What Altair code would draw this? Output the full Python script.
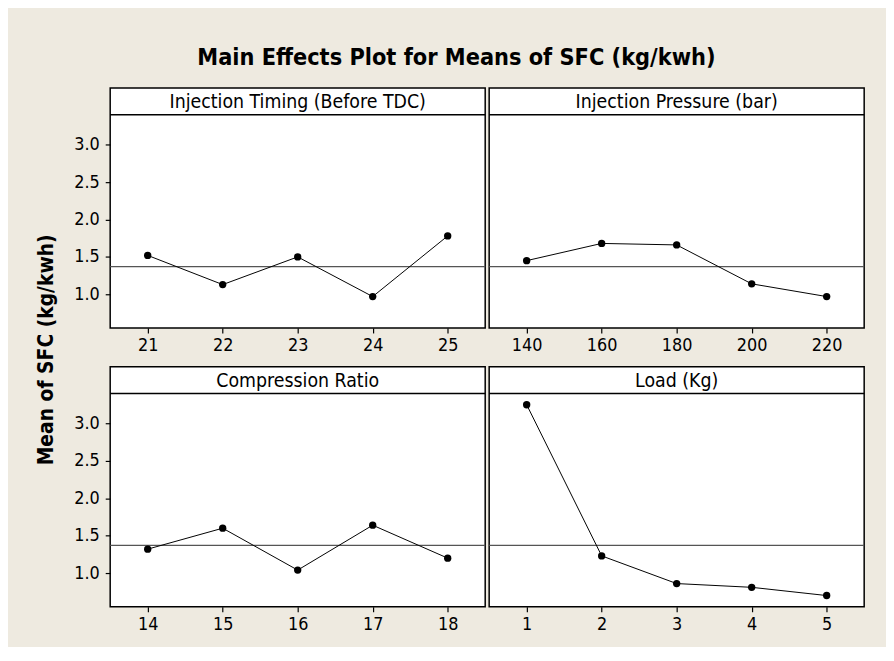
import altair as alt
import pandas as pd

# ---- data ----
it_levels = [21, 22, 23, 24, 25]
it_means = [1.52, 1.13, 1.50, 0.97, 1.78]
ip_levels = [140, 160, 180, 200, 220]
ip_means = [1.45, 1.68, 1.66, 1.14, 0.97]
cr_levels = [14, 15, 16, 17, 18]
cr_means = [1.32, 1.60, 1.04, 1.64, 1.20]
load_levels = [1, 2, 3, 4, 5]
load_means = [3.25, 1.23, 0.86, 0.81, 0.70]
grand_mean = [1.37]
y_ticks = [1.0, 1.5, 2.0, 2.5, 3.0]
y_domain = [0.55, 3.40]

panel_titles = ["Injection Timing (Before TDC)", "Injection Pressure (bar)",
                "Compression Ratio", "Load (Kg)"]
chart_title = "Main Effects Plot for Means of SFC (kg/kwh)"
y_title = "Mean of SFC (kg/kwh)"

FONT = "DejaVu Sans Condensed, DejaVu Sans, sans-serif"
H = 242
HDR = 27
PANEL_VIEW = alt.ViewBackground(stroke="black", strokeWidth=1.5, fill="white")


def panel(title, levels, means, xdomain, width, show_y):
    df = pd.DataFrame({"level": levels, "mean": means})
    yscale = alt.Scale(domain=y_domain, range=[H, HDR], nice=False, zero=False)
    xscale = alt.Scale(domain=xdomain, nice=False, zero=False)
    xaxis = alt.Axis(values=levels, format="d", title=None, grid=False, domain=False,
                     tickSize=5, tickColor="black", tickWidth=1.2, labelPadding=4,
                     labelFontSize=18, labelFont=FONT, labelColor="black")
    if show_y:
        yaxis = alt.Axis(values=y_ticks, format=".1f", title=None, grid=False, domain=False,
                         tickSize=5, tickColor="black", tickWidth=1.2, labelPadding=6,
                         labelFontSize=18, labelFont=FONT, labelColor="black")
    else:
        yaxis = None
    base = alt.Chart(df).encode(
        x=alt.X("level:Q", scale=xscale, axis=xaxis),
        y=alt.Y("mean:Q", scale=yscale, axis=yaxis),
    )
    line = base.mark_line(color="black", strokeWidth=1)
    pts = base.mark_circle(size=55, color="black", opacity=1)
    mdf = pd.DataFrame({"m": grand_mean})
    mrule = alt.Chart(mdf).mark_rule(color="#555555", strokeWidth=1.3).encode(
        y=alt.Y("m:Q", scale=yscale, axis=yaxis)
    )
    hdr_rule = alt.Chart(mdf).mark_rule(color="black", strokeWidth=1.5).encode(
        y=alt.value(HDR)
    )
    hdr_text = alt.Chart(pd.DataFrame({"t": [title]})).mark_text(
        font=FONT, fontSize=19.5, color="black", baseline="middle", align="center"
    ).encode(text="t:N", x=alt.value(width / 2), y=alt.value(HDR / 2 + 1))
    return alt.layer(mrule, line, pts, hdr_rule, hdr_text).properties(
        width=width, height=H, view=PANEL_VIEW
    )


p1 = panel(panel_titles[0], it_levels, it_means, [20.5, 25.5], 378, True)
p2 = panel(panel_titles[1], ip_levels, ip_means, [130, 230], 378, False)
p3 = panel(panel_titles[2], cr_levels, cr_means, [13.5, 18.5], 378, True)
p4 = panel(panel_titles[3], load_levels, load_means, [0.5, 5.5], 378, False)

top = alt.hconcat(p1, p2, spacing=0)
bot = alt.hconcat(p3, p4, spacing=0)
grid = alt.vconcat(top, bot, spacing=10)

ytitle_chart = alt.Chart(pd.DataFrame({"t": [y_title]})).mark_text(
    font=FONT, fontSize=21, fontWeight="bold", color="black", angle=270,
    baseline="middle", align="center"
).encode(text="t:N", x=alt.value(10), y=alt.value(264)).properties(
    width=20, height=521,
    view=alt.ViewBackground(stroke="transparent", fill="transparent"),
)

chart = alt.hconcat(ytitle_chart, grid, spacing=15).properties(
    title=alt.Title(chart_title, fontSize=23.5, font=FONT, fontWeight="bold",
                    anchor="middle", offset=18, dx=6, color="black"),
    padding={"left": 27, "top": 35, "right": 20, "bottom": 10},
    background="#EEEAE0",
)

chart.save("out.html", embed_options={"renderer": "svg", "actions": False})
